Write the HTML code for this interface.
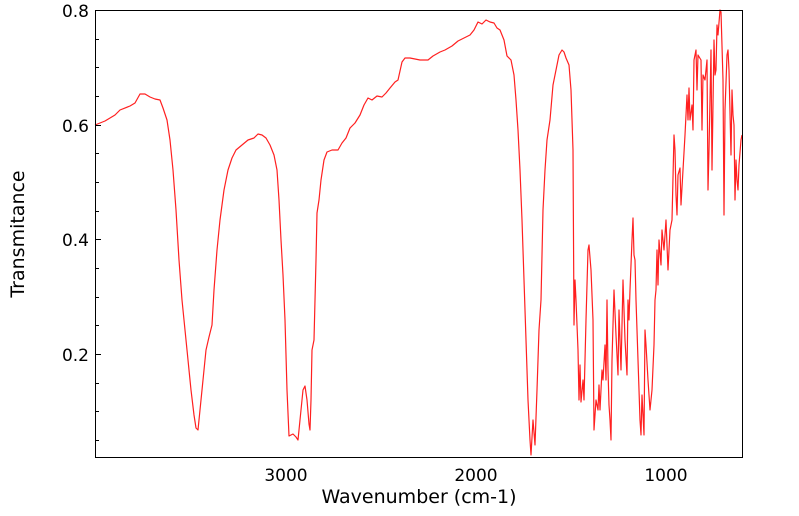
<!DOCTYPE html>
<html><head><style>
body{margin:0;background:#fff;}
svg{display:block;font-family:"DejaVu Sans","Liberation Sans",sans-serif;}
</style></head><body>
<svg width="799" height="516" viewBox="0 0 799 516">
<rect x="0" y="0" width="799" height="516" fill="#fff"/>
<polyline fill="none" stroke="#ff2020" stroke-width="1.2" stroke-linejoin="round" points="95,125 105,121 115,115 120,110 130,106 135,103 140,94 145,94 150,97 155,99 160,100 163,108 167,120 170,140 173,170 176,210 179,260 182,300 185,330 188,360 191,390 194,415 196,428 198,430 200,410 203,380 206,350 209,337 212,325 214,290 217,250 220,220 224,190 228,170 232,158 236,150 242,145 248,140 254,138 258,134 262,135 266,138 270,145 274,155 277,170 279,200 281,240 283,275 285,320 287,390 289,436 293,434 296,437 298,440 300,420 303,390 305,386 307,400 309,424 310,430 311,400 312,350 314,340 316,260 317,213 319,200 321,180 324,160 327,152 332,150 338,150 342,143 346,138 350,128 355,123 360,115 364,105 368,98 372,100 377,96 382,97 386,93 390,88 395,82 398,80 402,62 405,58 410,58 420,60 428,60 433,56 440,52 445,50 452,46 458,41 464,38 470,35 474,30 478,22 482,24 486,20 490,22 494,23 497,28 500,30 504,40 507,56 511,60 514,75 516,100 518,130 520,170 522,220 524,280 526,340 528,400 530,440 531,455 533,420 535,445 537,390 539,330 541,300 543,210 545,170 547,140 550,120 553,85 556,70 559,55 562,50 564,52 566,58 569,65 571,90 573,150 574,325 575,280 576,300 578,350 579,400 580,365 581,402 583,380 584,400 586,320 588,250 589,245 591,270 593,320 594,430 596,400 598,410 599,385 600,410 602,370 603,380 605,345 606,380 607,300 608,370 609,405 610,420 611,440 612,360 614,290 616,335 618,375 619,310 621,370 623,280 625,340 627,375 628,300 629,320 630,290 632,240 633,218 634,255 635,260 636,300 638,360 640,420 641,435 642,395 644,435 645,330 646,345 648,380 650,410 652,390 654,345 655,300 656,290 657,250 658,285 659,240 661,265 662,230 664,250 665,235 666,220 668,270 670,230 672,220 674,135 675,150 676,195 677,215 678,175 680,168 681,205 683,170 685,135 687,95 688,120 689,88 690,120 692,105 693,130 694,60 696,50 697,90 698,55 701,60 702,130 703,75 705,80 707,60 708,190 709,150 711,50 712,170 714,40 715,75 716,70 717,25 718,35 720,10 721,12 723,80 724,215 725,110 727,55 728,50 729,70 731,155 732,90 733,115 734,125 735,200 736,160 737,180 738,190 739,165 741,140 742,135"/>
<rect x="95.5" y="10.5" width="647" height="447" fill="none" stroke="#000" stroke-width="1"/>
<g stroke="#000" stroke-width="1">
<line x1="95" y1="10.5" x2="101" y2="10.5"/><line x1="95" y1="125.5" x2="101" y2="125.5"/><line x1="95" y1="239.5" x2="101" y2="239.5"/><line x1="95" y1="354.5" x2="101" y2="354.5"/>
<line x1="95" y1="39.5" x2="99" y2="39.5"/><line x1="95" y1="67.5" x2="99" y2="67.5"/><line x1="95" y1="96.5" x2="99" y2="96.5"/><line x1="95" y1="153.5" x2="99" y2="153.5"/><line x1="95" y1="182.5" x2="99" y2="182.5"/><line x1="95" y1="211.5" x2="99" y2="211.5"/><line x1="95" y1="268.5" x2="99" y2="268.5"/><line x1="95" y1="297.5" x2="99" y2="297.5"/><line x1="95" y1="325.5" x2="99" y2="325.5"/><line x1="95" y1="383.5" x2="99" y2="383.5"/><line x1="95" y1="411.5" x2="99" y2="411.5"/><line x1="95" y1="440.5" x2="99" y2="440.5"/>
</g>
<g stroke="#000" stroke-width="1" id="xt"></g>
<script>
var g=document.getElementById('xt'),s='';
for(var w=3900;w>=700;w-=100){var x=Math.round(286+(3000-w)*0.19)+0.5;var h=(w%1000==0)?9:5;s+='<line x1="'+x+'" y1="457" x2="'+x+'" y2="'+(457-h)+'"/>';}
g.innerHTML=s;
</script>
<g font-size="17" fill="#000">
<text x="89" y="17" text-anchor="end">0.8</text>
<text x="89" y="132" text-anchor="end">0.6</text>
<text x="89" y="246" text-anchor="end">0.4</text>
<text x="89" y="361" text-anchor="end">0.2</text>
<text x="286" y="481" text-anchor="middle">3000</text>
<text x="476" y="481" text-anchor="middle">2000</text>
<text x="666" y="481" text-anchor="middle">1000</text>
</g>
<g font-size="19" fill="#000">
<text x="419" y="503" text-anchor="middle">Wavenumber (cm-1)</text>
<text transform="translate(24,234) rotate(-90)" text-anchor="middle">Transmitance</text>
</g>
</svg>
</body></html>
